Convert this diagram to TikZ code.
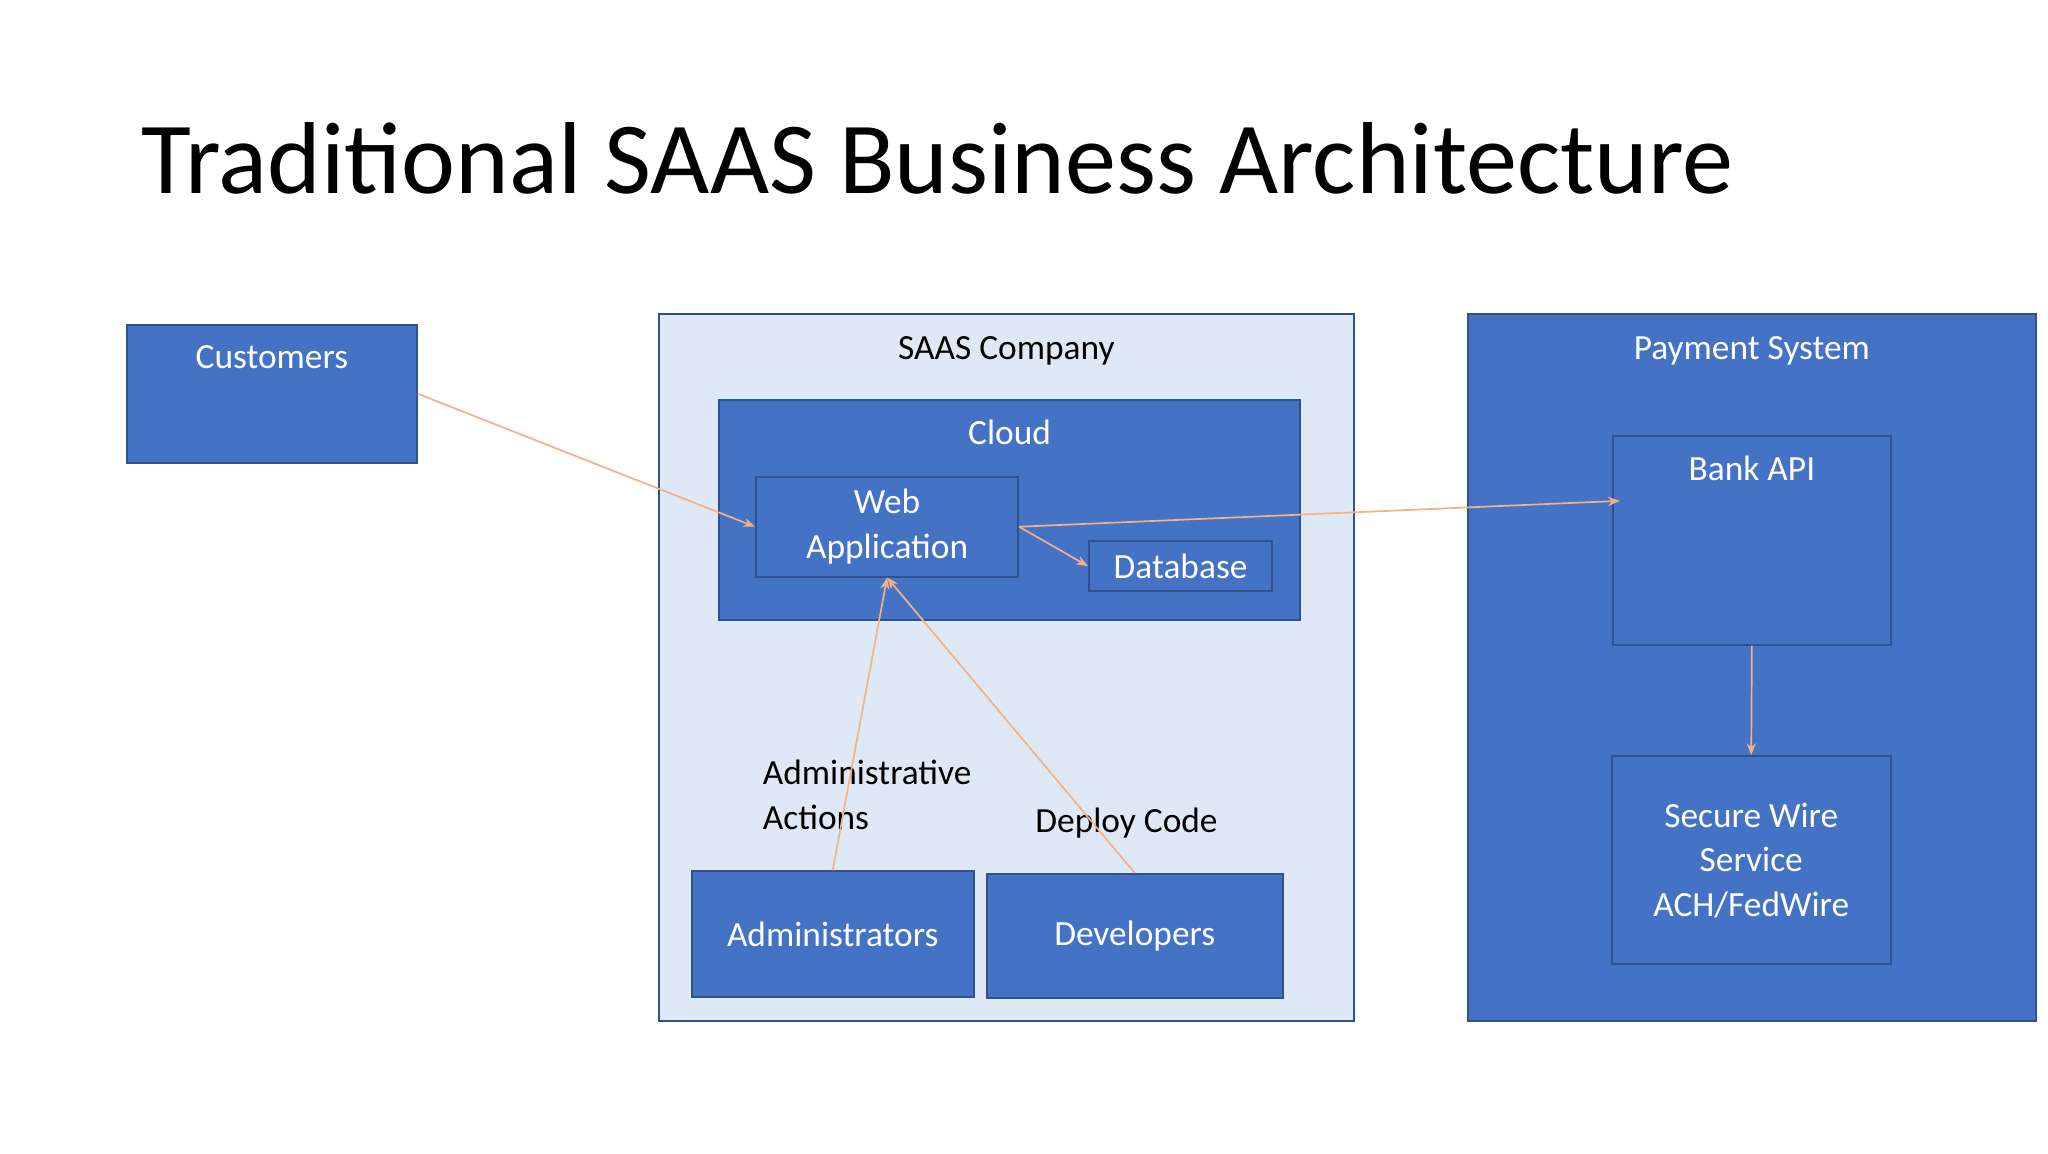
\documentclass[tikz,border=0pt]{standalone}
\usepackage{fontspec}
\setmainfont{Carlito}
\usetikzlibrary{arrows.meta,calc}
\definecolor{bluefill}{HTML}{4472C4}
\definecolor{blueline}{HTML}{2F528F}
\definecolor{lightfill}{HTML}{DFE9F6}
\definecolor{arr}{HTML}{F4B183}
\tikzset{
 box/.style={draw=blueline,line width=1.5pt,fill=bluefill,inner sep=0pt},
 lbox/.style={draw=blueline,line width=1.5pt,fill=lightfill,inner sep=0pt},
 wt/.style={text=white,font=\fontsize{27}{34}\selectfont,align=center,inner sep=0pt},
 bt/.style={text=black,font=\fontsize{27}{34}\selectfont,align=left,inner sep=0pt},
 con/.style={draw=arr,line width=1.3pt,-{Stealth[length=9pt,width=7pt]}}
}
\begin{document}
\begin{tikzpicture}[x=1pt,y=-1pt]
\useasboundingbox[fill=white] (0,0) rectangle (1563,880);
\node[anchor=base west,inner sep=0pt,font=\fontsize{78}{90}\selectfont] (title) at (108,148) {Traditional SAAS Business Architecture};
% customers
\node[box,minimum width=221pt,minimum height=105pt] (cust) at (207.5,300.5) {};
\node[wt,anchor=base] (custl) at (207.5,281) {Customers};
% saas company
\node[lbox,minimum width=530pt,minimum height=539pt] (saas) at (768,509.5) {};
\node[bt,anchor=base] (saasl) at (768,274) {SAAS Company};
\node[box,minimum width=443pt,minimum height=168pt] (cloud) at (770.5,389) {};
\node[wt,anchor=base] (cloudl) at (770.5,339) {Cloud};
\node[box,minimum width=200pt,minimum height=76pt,wt] (web) at (677,402) {Web\\Application};
\node[box,minimum width=140pt,minimum height=38pt,wt] (db) at (901,432) {Database};
\node[box,minimum width=215pt,minimum height=96pt,wt] (admin) at (635.5,713) {Administrators};
\node[box,minimum width=226pt,minimum height=95pt,wt] (dev) at (866,714.5) {Developers};
\node[bt,anchor=north west] (adminl) at (582,580) {Administrative\\Actions};
\node[bt,anchor=base west] (devl) at (790,635) {Deploy Code};
% payment
\node[box,minimum width=434pt,minimum height=539pt] (pay) at (1337,509.5) {};
\node[wt,anchor=base] (payl) at (1337,274) {Payment System};
\node[box,minimum width=212pt,minimum height=159pt] (bank) at (1337,412.5) {};
\node[wt,anchor=base] (bankl) at (1337,367) {Bank API};
\node[box,minimum width=213pt,minimum height=159pt,wt] (wire) at (1336.5,656.5) {Secure Wire\\Service\\ACH/FedWire};
% connectors
\draw[con] (cust.east) -- (web.west);
\draw[con] (web.east) -- (db.west);
\draw[con] (web.east) -- ($(bank.north west)+(6,50)$);
\draw[con] (admin.north) -- (web.south);
\draw[con] (dev.north) -- (web.south);
\draw[con] (bank.south) -- (wire.north);
\end{tikzpicture}
\end{document}
